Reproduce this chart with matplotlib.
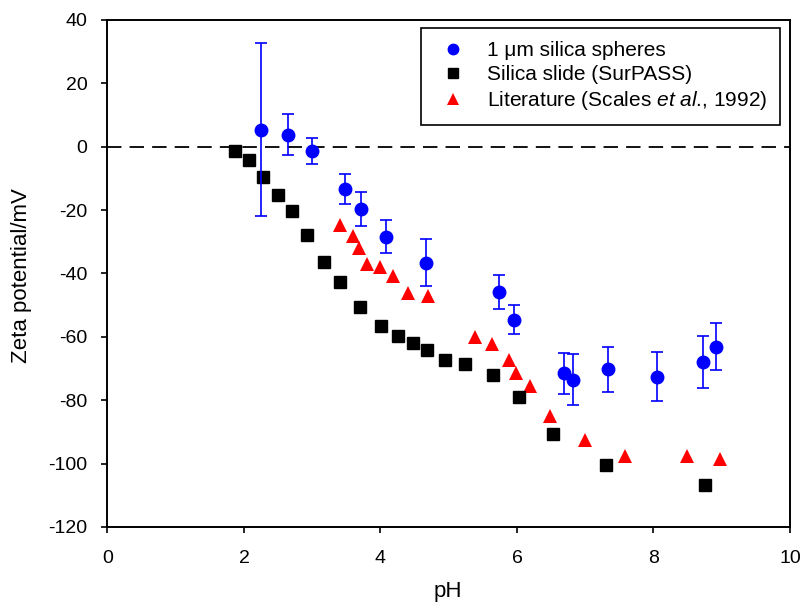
import matplotlib
matplotlib.use("Agg")
import matplotlib.pyplot as plt
from matplotlib.lines import Line2D

plt.rcParams['font.family'] = ['Liberation Sans', 'DejaVu Sans']
plt.rcParams['mathtext.fontset'] = 'custom'
plt.rcParams['mathtext.rm'] = 'Liberation Sans'
plt.rcParams['mathtext.it'] = 'Liberation Sans:italic'
plt.rcParams['axes.unicode_minus'] = False

# 1 um silica spheres
sph_ph = [2.25, 2.65, 2.99, 3.48, 3.72, 4.08, 4.66, 5.73, 5.95, 6.69, 6.82, 7.34, 8.05, 8.73, 8.92]
sph_zeta = [5.4, 3.8, -1.3, -13.3, -19.6, -28.4, -36.6, -45.8, -54.6, -71.5, -73.5, -70.2, -72.6, -67.8, -63.1]
sph_err = [27.4, 6.5, 4.2, 4.8, 5.3, 5.3, 7.4, 5.3, 4.6, 6.4, 8.0, 7.1, 7.8, 8.2, 7.5]

# Silica slide (SurPASS)
sld_ph = [1.87, 2.07, 2.28, 2.50, 2.71, 2.93, 3.17, 3.40, 3.70, 4.01, 4.25, 4.47, 4.68, 4.95, 5.24, 5.65, 6.03, 6.53, 7.31, 8.76]
sld_zeta = [-1.3, -4.1, -9.7, -15.1, -20.2, -27.9, -36.4, -42.8, -50.5, -56.5, -59.8, -61.9, -64.0, -67.2, -68.7, -71.9, -78.9, -90.6, -100.4, -106.9]
sld_err = [1.0] * len(sld_ph)

# Literature (Scales et al., 1992)
lit_ph = [3.40, 3.60, 3.69, 3.80, 4.00, 4.19, 4.40, 4.69, 5.39, 5.63, 5.89, 5.99, 6.19, 6.49, 6.99, 7.59, 8.49, 8.98]
lit_zeta = [-24.6, -28.1, -32.0, -36.9, -38.0, -40.9, -46.2, -47.0, -60.0, -62.3, -67.2, -71.4, -75.5, -85.0, -92.4, -97.7, -97.7, -98.7]

labels = ['1 μm silica spheres', 'Silica slide (SurPASS)',
          r'Literature (Scales $\mathit{et\ al}$., 1992)']

fig = plt.figure(figsize=(8.02, 6.04), dpi=100)
ax = fig.add_axes([0.134, 0.1275, 0.851, 0.8395])

ax.axhline(0, color='black', linestyle=(0, (8, 4.5)), linewidth=1.3, zorder=1)

ax.errorbar(sld_ph, sld_zeta, yerr=sld_err, fmt='s', color='black', markersize=8,
            ecolor='black', elinewidth=1, capsize=3, zorder=3)
ax.plot(lit_ph, lit_zeta, '^', color='red', markersize=10, markeredgewidth=0, zorder=3)
ax.errorbar(sph_ph, sph_zeta, yerr=sph_err, fmt='o', color='blue', markersize=9,
            ecolor='blue', elinewidth=1.2, capsize=4.3, capthick=1.2, zorder=4)

ax.set_xlim(0, 10)
ax.set_ylim(-120, 40)
ax.set_xticks([0, 2, 4, 6, 8, 10])
ax.set_yticks(range(-120, 41, 20))
ax.tick_params(direction='out', length=4.3, width=1.2, labelsize=14)
ax.tick_params(axis='y', pad=10)
ax.tick_params(axis='x', pad=12)
for s in ax.spines.values():
    s.set_linewidth(1.4)

fig.text(22 / 802, 1 - 276 / 604, 'Zeta potential/mV', rotation=90,
         ha='center', va='center', fontsize=16)
fig.text(448 / 802, 1 - 597 / 604, 'pH', ha='center', va='baseline', fontsize=16)

handles = [
    Line2D([], [], linestyle='none', marker='o', color='blue', markersize=7.5),
    Line2D([], [], linestyle='none', marker='s', color='black', markersize=6.5),
    Line2D([], [], linestyle='none', marker='^', color='red', markersize=8, markeredgewidth=0),
]
leg = ax.legend(handles, labels, loc='upper right',
                bbox_to_anchor=(0.9855, 0.9835), fontsize=15,
                fancybox=False, edgecolor='black', framealpha=1,
                handlelength=1.9, handletextpad=0.7, borderpad=0.6,
                labelspacing=0.25, borderaxespad=0)
leg.get_frame().set_linewidth(1.2)

fig.savefig('out.png', dpi=100)
